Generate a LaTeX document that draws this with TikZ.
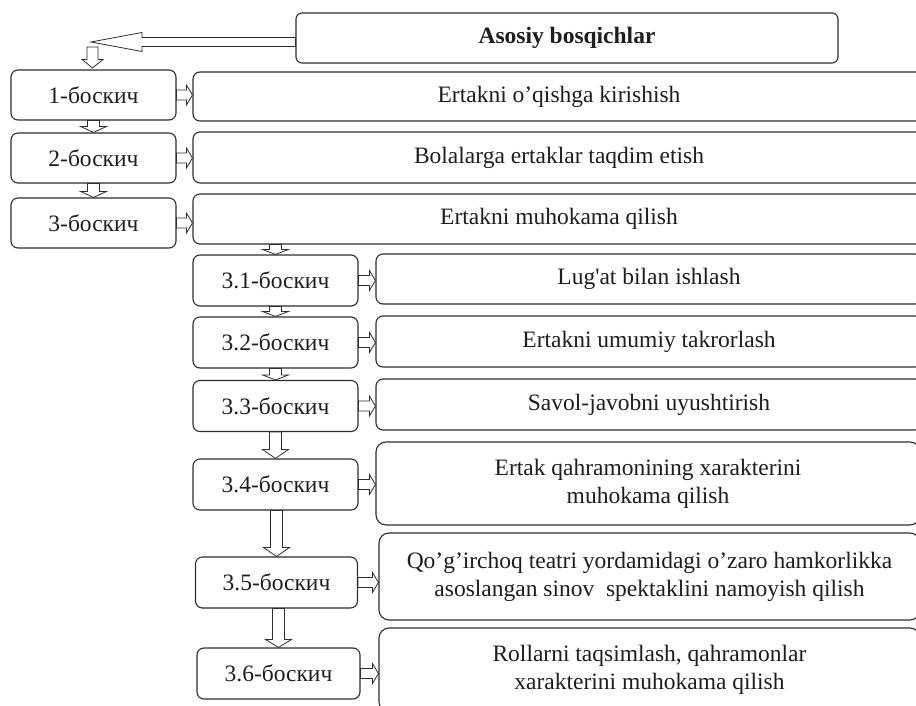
\documentclass[tikz,border=0pt]{standalone}
\usepackage{fontspec}
\setmainfont{Liberation Serif}
\newfontfamily\plainserif{Liberation Serif}
\usetikzlibrary{calc}
\definecolor{ln}{HTML}{2E2E2E}
\definecolor{tx}{HTML}{1E1E1E}
\tikzset{
  box/.style={draw=ln, line width=1.1pt, rounded corners=7pt, inner sep=0pt, text=tx,
    font=\fontsize{23.5}{28}\selectfont, align=center},
  titlebox/.style={box, rounded corners=6pt, font=\fontsize{23.5}{28}\selectfont\bfseries},
  blk/.style={draw=ln, line width=0.8pt, fill=white, line join=miter},
}
% down block arrow: from #1 (south) to #2 (north), head length #3
\newcommand\dnarrow[3]{%
  \path let \p1=(#1.south), \p2=(#2.north) in
   [blk] (\x2-6pt,\y1) -- (\x2-6pt,\y2+#3) -- (\x2-13pt,\y2+#3) -- (\x2,\y2)
   -- (\x2+13pt,\y2+#3) -- (\x2+6pt,\y2+#3) -- (\x2+6pt,\y1) -- cycle;}
% right block arrow: from #1 (east) to #2 (west)
\newcommand\rtarrow[2]{%
  \path let \p1=(#1.east), \p2=(#2.west) in
   [blk] (\x1,\y1+5pt) -- (\x2-6pt,\y1+5pt) -- (\x2-6pt,\y1+10pt) -- (\x2,\y1)
   -- (\x2-6pt,\y1-10pt) -- (\x2-6pt,\y1-5pt) -- (\x1,\y1-5pt) -- cycle;}
\begin{document}
\begin{tikzpicture}[x=1pt,y=-1pt]
\clip (0,0) rectangle (916,706);
\fill[white] (0,0) rectangle (916,706);

\node[titlebox, minimum width=542pt, minimum height=50pt] (title) at (567,38) {Asosiy bosqichlar};

\node[box, minimum width=165pt, minimum height=50pt] (s1) at (93.5,95) {1-боскич};
\node[box, minimum width=165pt, minimum height=50pt] (s2) at (93.5,158) {2-боскич};
\node[box, minimum width=165pt, minimum height=50pt] (s3) at (93.5,223) {3-боскич};

\node[box, minimum width=732pt, minimum height=49pt] (w1) at (559,96.5) {Ertakni o’qishga kirishish};
\node[box, minimum width=732pt, minimum height=51pt] (w2) at (559,157.5) {Bolalarga ertaklar taqdim etish};
\node[box, minimum width=732pt, minimum height=50pt] (w3) at (559,219) {Ertakni muhokama qilish};

\node[box, minimum width=165pt, minimum height=51pt] (t1) at (275.5,280.5) {3.1-боскич};
\node[box, minimum width=165pt, minimum height=51pt] (t2) at (275.5,342.5) {3.2-боскич};
\node[box, minimum width=165pt, minimum height=51pt] (t3) at (275.5,406) {3.3-боскич};
\node[box, minimum width=165pt, minimum height=51pt] (t4) at (275.5,484.5) {3.4-боскич};
\node[box, minimum width=162pt, minimum height=51pt] (t5) at (276.5,582.5) {3.5-боскич};
\node[box, minimum width=163pt, minimum height=51pt] (t6) at (278.5,673.5) {3.6-боскич};

\node[box, minimum width=546pt, minimum height=50pt] (v1) at (649,279) {Lug{\plainserif '}at bilan ishlash};
\node[box, minimum width=546pt, minimum height=51pt] (v2) at (649,341.5) {Ertakni umumiy takrorlash};
\node[box, minimum width=546pt, minimum height=51pt] (v3) at (649,404.5) {Savol-javobni uyushtirish};
\node[box, rounded corners=10pt, minimum width=544pt, minimum height=83pt] (v4) at (648,483.5) {Ertak qahramonining xarakterini\\muhokama qilish};
\node[box, rounded corners=10pt, minimum width=541pt, minimum height=87pt] (v5) at (649.5,576.5) {Qo’g’irchoq teatri yordamidagi o’zaro hamkorlikka\\asoslangan sinov\ \ spektaklini namoyish qilish};
\node[box, rounded corners=10pt, minimum width=541pt, minimum height=84pt] (v6) at (649.5,670) {Rollarni taqsimlash, qahramonlar\\xarakterini muhokama qilish};

% big left arrow from title
\coordinate (tip) at (91,42);
\path let \p1=(title.west), \p2=(tip) in
  [blk] (\x1,\y2+4.5pt) -- (\x2+51pt,\y2+4.5pt) -- (\x2+51pt,\y2+9.5pt) -- (\x2,\y2)
  -- (\x2+51pt,\y2-9.5pt) -- (\x2+51pt,\y2-4.5pt) -- (\x1,\y2-4.5pt) -- cycle;
\coordinate (dstart) at (92.5,47);
\path let \p1=(dstart), \p2=(s1.north) in
  [blk] (\x1-5.5pt,\y1) -- (\x1-5.5pt,\y2+10pt) -- (\x1-10.5pt,\y2+10pt) -- (\x1,\y2+1.5pt)
  -- (\x1+10.5pt,\y2+10pt) -- (\x1+5.5pt,\y2+10pt) -- (\x1+5.5pt,\y1) -- cycle;

\dnarrow{s1}{s2}{6pt}
\dnarrow{s2}{s3}{6pt}
\dnarrow{w3}{t1}{5pt}
\dnarrow{t1}{t2}{5pt}
\dnarrow{t2}{t3}{5pt}
\dnarrow{t3}{t4}{9pt}
\dnarrow{t4}{t5}{9pt}
\dnarrow{t5}{t6}{8pt}

\rtarrow{s1}{w1}
\rtarrow{s2}{w2}
\rtarrow{s3}{w3}
\rtarrow{t1}{v1}
\rtarrow{t2}{v2}
\rtarrow{t3}{v3}
\rtarrow{t4}{v4}
\rtarrow{t5}{v5}
\rtarrow{t6}{v6}
\end{tikzpicture}
\end{document}
